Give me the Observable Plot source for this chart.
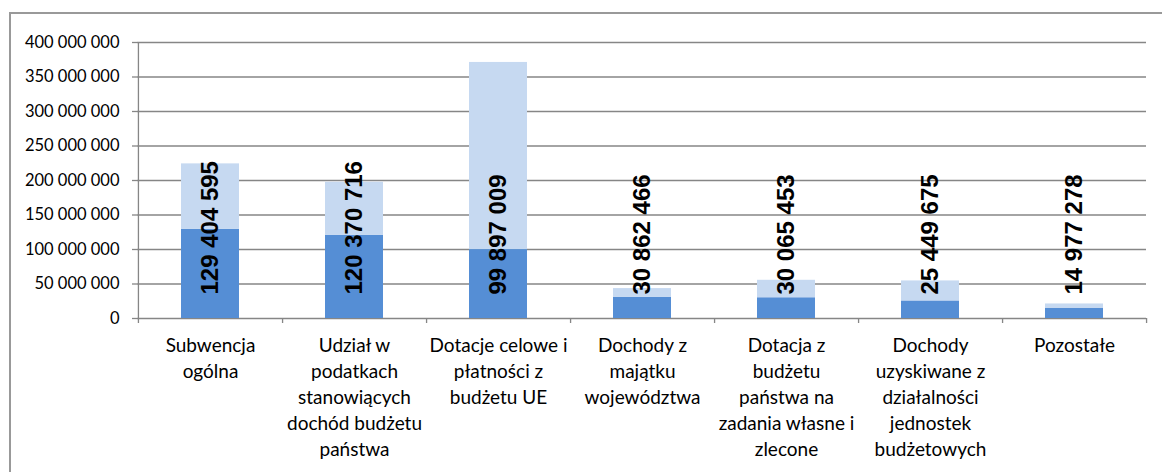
<!DOCTYPE html>
<html>
<head>
<meta charset="utf-8">
<script src="https://cdn.jsdelivr.net/npm/d3@7"></script>
<script src="https://cdn.jsdelivr.net/npm/@observablehq/plot@0.6"></script>
<style>
  html, body { margin: 0; padding: 0; background: #fff; }
  #wrap { position: relative; width: 1162px; height: 472px; overflow: hidden; }
  #chart { position: absolute; left: 0; top: 0; }
  #border { position: absolute; left: 9px; top: 12px; width: 1200px; height: 500px;
            border-left: 2px solid #999; border-top: 2px solid #999; pointer-events: none; }
</style>
</head>
<body>
<div id="wrap"><div id="chart"></div><div id="border"></div></div>
<script>
// ---- data ----
const categories = [
  "Subwencja\nogólna",
  "Udział w\npodatkach\nstanowiących\ndochód budżetu\npaństwa",
  "Dotacje celowe i\npłatności z\nbudżetu UE",
  "Dochody z\nmajątku\nwojewództwa",
  "Dotacja z\nbudżetu\npaństwa na\nzadania własne i\nzlecone",
  "Dochody\nuzyskiwane z\ndziałalności\njednostek\nbudżetowych",
  "Pozostałe"
];
const darkValues  = [129404595, 120370716, 99897009, 30862466, 30065453, 25449675, 14977278];
const lightValues = [94700000, 77100000, 271200000, 12500000, 25300000, 29000000, 6100000];
const yTicks = [0, 50000000, 100000000, 150000000, 200000000, 250000000, 300000000, 350000000, 400000000];

// ---- table built from arrays ----
const rows = [];
categories.forEach((c, i) => {
  rows.push({cat: c, series: "dark", value: darkValues[i]});
  rows.push({cat: c, series: "light", value: lightValues[i]});
});
const labels = categories.map((c, i) => ({cat: c, value: darkValues[i]}));

const fmt = d => d3.format(",")(d).replace(/,/g, " ");

const W = 1162, H = 472, mL = 137, mR = 16, mT = 42, mB = 154;
const step = (W - mL - mR) / categories.length;
const grey = "#868686";
const font = "Lato, 'Open Sans', sans-serif";

const chart = Plot.plot({
  width: W,
  height: H,
  marginLeft: mL,
  marginRight: mR,
  marginTop: mT,
  marginBottom: mB,
  style: {background: "#fff", fontFamily: font, color: "#000"},
  x: {domain: categories, paddingInner: 0.6, paddingOuter: 0.3, label: null},
  y: {domain: [0, 400000000], label: null},
  color: {domain: ["dark", "light"], range: ["#558ED5", "#C6D9F1"]},
  marks: [
    Plot.gridY(yTicks, {stroke: grey, strokeOpacity: 1, strokeWidth: 1.3}),
    Plot.axisY({ticks: yTicks, tickFormat: fmt, tickSize: 5, tickPadding: 13,
                stroke: grey, strokeWidth: 1.3, fontSize: 16.5, fill: "#000", label: null, fontFamily: font}),
    Plot.barY(rows, {x: "cat", y: "value", fill: "series", order: null}),
    // left axis line
    Plot.ruleX([categories[0]], {x: d => d, y1: 0, y2: 400000000, dx: -step / 2, insetTop: 5,
                                 stroke: grey, strokeWidth: 1.3}),
    // category boundary ticks
    Plot.ruleX(categories, {x: d => d, y1: 0, y2: 0, dx: step / 2, insetTop: 5, stroke: grey, strokeWidth: 1.3}),
    Plot.axisX({tickSize: 0, tickPadding: 15, fontSize: 19, lineHeight: 1.37, fill: "#000",
                label: null, fontFamily: font, tickFormat: d => d}),
    Plot.text(labels, {x: "cat", y: 0, text: d => fmt(d.value), rotate: -90, textAnchor: "start",
                       dy: -24, fontSize: 24, fontWeight: "bold",
                       fontFamily: "'Liberation Sans', Arial, sans-serif", fill: "#000"})
  ]
});
document.getElementById("chart").appendChild(chart);
</script>
</body>
</html>
